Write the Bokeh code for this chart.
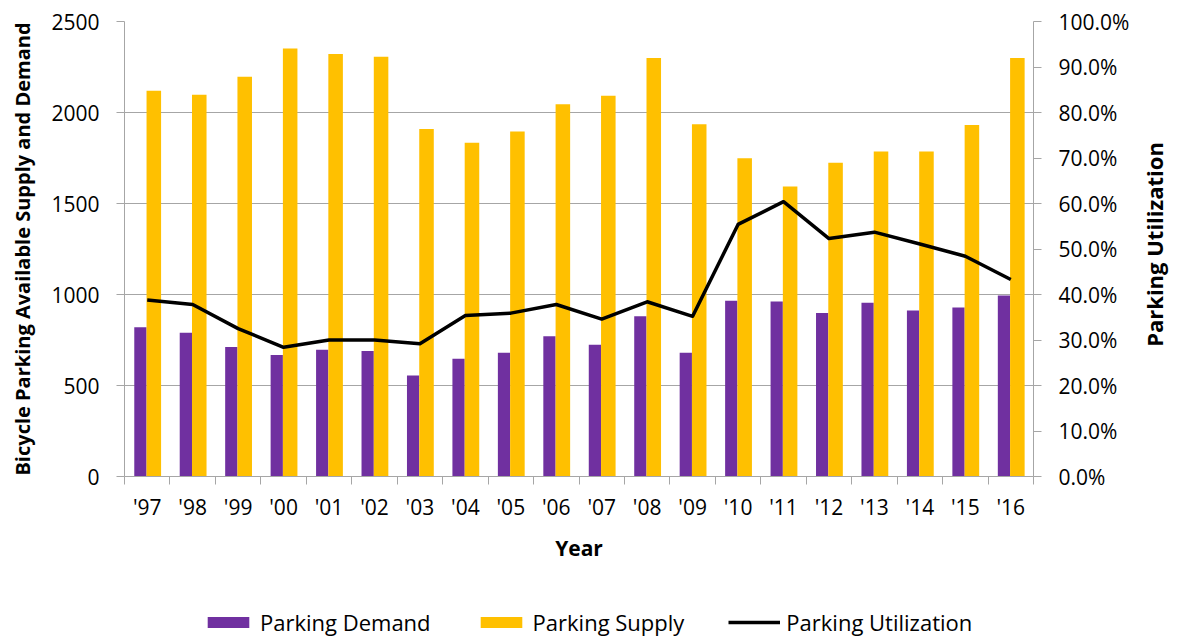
import math

from bokeh.plotting import figure
from bokeh.layouts import column
from bokeh.models import (ColumnDataSource, Range1d, LinearAxis, FixedTicker,
                          NumeralTickFormatter, Grid, Legend, LegendItem)
from bokeh.embed import file_html
from bokeh.resources import INLINE

# Bicycle parking: yearly demand, supply and utilization
years = ["'97", "'98", "'99", "'00", "'01", "'02", "'03", "'04", "'05", "'06",
         "'07", "'08", "'09", "'10", "'11", "'12", "'13", "'14", "'15", "'16"]
demand = [820, 790, 711, 667, 696, 689, 555, 647, 680, 771,
          724, 881, 680, 965, 962, 898, 954, 912, 929, 995]
supply = [2119, 2097, 2196, 2352, 2321, 2306, 1910, 1834, 1896, 2046,
          2092, 2300, 1936, 1749, 1593, 1724, 1786, 1786, 1932, 2299]
utilization = [0.388, 0.378, 0.325, 0.284, 0.300, 0.300, 0.292, 0.354, 0.359, 0.378,
               0.346, 0.384, 0.352, 0.554, 0.604, 0.523, 0.537, 0.511, 0.484, 0.433]

left_ticks = [0, 500, 1000, 1500, 2000, 2500]
right_ticks = [0.0, 0.1, 0.2, 0.3, 0.4, 0.5, 0.6, 0.7, 0.8, 0.9, 1.0]
right_title = "Parking Utilization"

PURPLE = "#7030A0"
GOLD = "#FFC000"
GRID = "#a6a6a6"
FONT = "Open Sans"

n = len(years)
centers = [i + 0.5 for i in range(n)]
src = ColumnDataSource(dict(
    x=centers,
    x_dem=[c - 0.15 for c in centers],
    x_sup=[c + 0.145 for c in centers],
    demand=demand,
    supply=supply,
    util=utilization,
))

dem_style = dict(width=0.27, fill_color=PURPLE, line_color=None)
sup_style = dict(width=0.32, fill_color=GOLD, line_color=None)
util_style = dict(line_color="black", line_width=3.5, line_join="round")

p = figure(width=1187, height=590, output_backend="svg", toolbar_location=None,
           x_range=Range1d(0, n), y_range=Range1d(0, 2500),
           x_axis_location=None, y_axis_location=None,
           min_border_left=124, min_border_right=147,
           min_border_top=21, min_border_bottom=114)
p.extra_y_ranges = {"util": Range1d(0, 1)}
p.outline_line_color = None
p.background_fill_color = "white"
p.border_fill_color = "white"
# drop the default grids; only horizontal value gridlines are drawn
p.center = [r for r in p.center if not isinstance(r, Grid)]


def style_axis(ax):
    ax.major_label_text_font = FONT
    ax.major_label_text_font_size = "21px"
    ax.major_label_text_color = "#000000"
    ax.axis_line_color = GRID
    ax.axis_line_width = 1
    ax.major_tick_line_color = GRID
    ax.major_tick_in = 0
    ax.major_tick_out = 8
    ax.minor_tick_line_color = None
    ax.axis_label_text_font = FONT
    ax.axis_label_text_font_style = "bold"
    ax.axis_label_text_color = "#000000"


# left value axis
yax = LinearAxis(ticker=FixedTicker(ticks=left_ticks),
                 axis_label="Bicycle Parking Available Supply and Demand")
style_axis(yax)
yax.major_label_standoff = 17
yax.axis_label_standoff = 12
yax.axis_label_text_font_size = "20px"
p.add_layout(yax, "left")

# right utilization axis
rax = LinearAxis(y_range_name="util", ticker=FixedTicker(ticks=right_ticks),
                 formatter=NumeralTickFormatter(format="0.0%"))
style_axis(rax)
rax.major_label_standoff = 17
p.add_layout(rax, "right")

# right-hand title, written as a single upward-reading label
title_anchor = 0.285
tax = LinearAxis(y_range_name="util", ticker=FixedTicker(ticks=[title_anchor]),
                 major_label_overrides={title_anchor: right_title},
                 major_label_orientation=math.pi / 2)
style_axis(tax)
tax.axis_line_color = None
tax.major_tick_line_color = None
tax.major_tick_out = 0
tax.major_label_standoff = 22
tax.major_label_text_font_size = "22px"
tax.major_label_text_font_style = "bold"
p.add_layout(tax, "right")

# category boundary ticks
bax = LinearAxis(ticker=FixedTicker(ticks=list(range(n + 1))),
                 major_label_overrides={i: "" for i in range(n + 1)})
style_axis(bax)
bax.major_label_standoff = 0
p.add_layout(bax, "below")

# year labels centred in each category
lax = LinearAxis(ticker=FixedTicker(ticks=centers),
                 major_label_overrides={c: y for c, y in zip(centers, years)},
                 axis_label="Year")
style_axis(lax)
lax.axis_line_color = None
lax.major_tick_line_color = None
lax.major_tick_out = 0
lax.major_label_standoff = 8
lax.axis_label_standoff = 10
lax.axis_label_text_font_size = "21px"
p.add_layout(lax, "below")

p.add_layout(Grid(dimension=1, ticker=yax.ticker, grid_line_color=GRID,
                  grid_line_width=1))

p.vbar(x="x_dem", top="demand", source=src, **dem_style)
p.vbar(x="x_sup", top="supply", source=src, **sup_style)
p.line(x="x", y="util", source=src, y_range_name="util", **util_style)

# legend strip underneath the chart; its key renderers share the series
# styles and are hidden, so only their legend swatches are drawn
key = figure(width=1187, height=47, output_backend="svg", toolbar_location=None,
             x_range=Range1d(0, n), y_range=Range1d(0, 2500),
             x_axis_location=None, y_axis_location=None, min_border=0)
key.outline_line_color = None
key.background_fill_color = "white"
key.border_fill_color = "white"
key.center = [r for r in key.center if not isinstance(r, Grid)]
k_dem = key.vbar(x="x_dem", top="demand", source=src, visible=False, **dem_style)
k_sup = key.vbar(x="x_sup", top="supply", source=src, visible=False, **sup_style)
k_util = key.line(x="x", y="util", source=src, visible=False, **util_style)

legend = Legend(items=[
    LegendItem(label="Parking Demand", renderers=[k_dem]),
    LegendItem(label="Parking Supply", renderers=[k_sup]),
    LegendItem(label="Parking Utilization", renderers=[k_util]),
], orientation="horizontal", location=(78, 0), click_policy="none")
legend.glyph_width = 52
legend.glyph_height = 14
legend.label_standoff = 6
legend.spacing = 44
legend.padding = 0
legend.margin = 0
legend.border_line_color = None
legend.background_fill_alpha = 0
legend.label_text_font = FONT
legend.label_text_font_size = "22px"
legend.label_text_color = "#000000"
key.add_layout(legend, "center")

layout = column(p, key, spacing=0)
open("out.html", "w").write(file_html(layout, INLINE))
